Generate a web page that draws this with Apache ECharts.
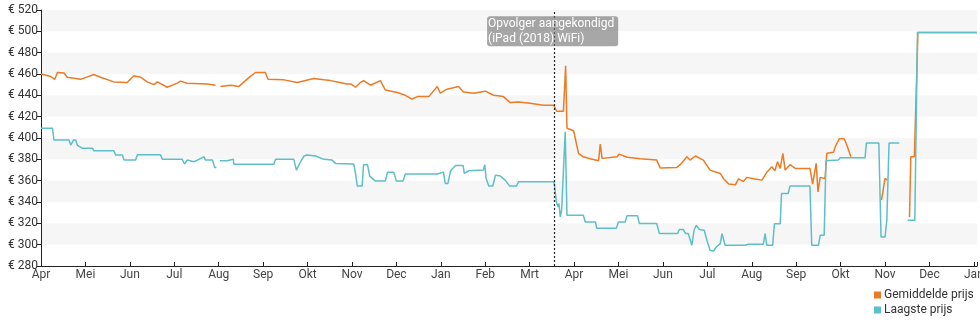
<!DOCTYPE html>
<html>
<head>
<meta charset="utf-8">
<script src="https://cdn.jsdelivr.net/npm/echarts@6/dist/echarts.min.js"></script>
<style>
html,body{margin:0;padding:0;background:#fff;}
#chart{width:980px;height:325px;}
</style>
</head>
<body>
<div id="chart"></div>
<script>
// Month tick labels (equal spacing, one per month)
const monthLabels = ['Apr','Mei','Jun','Jul','Aug','Sep','Okt','Nov','Dec','Jan','Feb','Mrt','Apr','Mei','Jun','Jul','Aug','Sep','Okt','Nov','Dec','Jan'];

// Gemiddelde prijs: [month position, price]
const avgPrice = [
[0.00,460],[0.22,457.6],[0.31,455],[0.37,461.4],[0.52,461],[0.59,457],[0.89,455],[1.19,459.5],[1.34,457],
[1.64,452.6],[1.94,452],[2.09,458.3],[2.24,457],[2.39,452.6],[2.54,450],[2.62,452.6],[2.84,447.6],[3.07,451.4],
[3.14,453.3],[3.29,451.4],[3.74,450.7],[3.93,449.5],[3.96,null],[4.04,448.2],[4.27,449.5],[4.45,448.2],[4.57,452.6],
[4.72,458],[4.83,461.4],[5.05,461.4],[5.11,455],[5.47,454.5],[5.77,452],[6.14,455.7],[6.37,454.5],[6.52,453.8],
[6.67,452.6],[6.89,450.7],[6.97,450.7],[7.08,447.6],[7.19,452],[7.26,453.8],[7.42,449.5],[7.64,453.8],[7.75,445],
[8.02,442.6],[8.20,440],[8.35,436.4],[8.47,438.8],[8.73,438.8],[8.92,448.2],[8.99,442],[9.14,445.8],[9.40,448.2],
[9.51,443.2],[9.74,442],[10.00,443.9],[10.19,440.1],[10.41,438.8],[10.56,433.2],[10.75,433.8],[11.01,432.6],
[11.31,430.7],[11.54,430.7],[11.61,425.1],[11.76,425.1],[11.81,467.7],[11.84,409.1],[11.99,406.8],[12.10,385.6],
[12.21,382.4],[12.36,380.5],[12.55,378.7],[12.59,394.3],[12.63,380.9],[12.97,382.4],[13.01,384.9],[13.20,381.9],
[13.49,380.5],[13.86,379.3],[13.94,371.8],[14.31,372.4],[14.39,375],[14.54,382.4],[14.61,379.3],[14.73,383.1],
[14.91,379.3],[15.06,369.9],[15.29,366.8],[15.36,362.1],[15.48,356.8],[15.63,356.1],[15.70,361.7],[15.81,359.3],
[15.89,363.1],[16.04,361.7],[16.23,360.5],[16.34,368],[16.45,373],[16.52,369.3],[16.58,377.7],[16.64,371.5],
[16.70,385.6],[16.75,369.9],[16.86,375],[16.98,371.5],[17.31,371.5],[17.37,356.8],[17.45,376.2],[17.49,349.5],
[17.54,363.1],[17.65,362.1],[17.69,385.6],[17.84,386.6],[17.88,391.8],[17.97,399.3],[18.08,399.3],[18.14,393.4],
[18.17,393.4],[18.23,382.4],[18.40,null],[18.92,341.7],[19.00,362.1],[19.05,360.5],[19.30,null],
[19.55,326],[19.58,382.4],[19.66,382.4],[19.74,499],[21.07,499]
];

// Laagste prijs: [month position, price]
const lowPrice = [
[0.00,409.1],[0.26,409.1],[0.29,398.1],[0.63,398.1],[0.67,393.4],[0.73,398.1],[0.78,398.1],[0.82,393.1],[0.93,390.3],
[1.16,390.3],[1.19,388.1],[1.64,388.1],[1.68,384],[1.83,384],[1.87,379.3],[2.13,379.3],[2.17,384.3],[2.69,384.3],
[2.73,380],[3.18,380],[3.23,375.6],[3.29,379.3],[3.44,377.7],[3.52,379.3],[3.67,382.4],[3.70,379.3],[3.86,379.3],
[3.91,372.4],[3.95,372.4],[3.97,null],[4.03,378.7],[4.19,378.7],[4.23,380],[4.33,380],[4.34,375.3],[5.24,375.3],
[5.28,380],[5.69,380],[5.75,369.9],[5.84,377.7],[5.92,383.1],[5.99,384],[6.18,383.1],[6.37,380],[6.55,379.3],
[6.63,376.2],[7.04,375.6],[7.08,366.8],[7.12,354.9],[7.23,354.9],[7.26,374.9],[7.35,374.9],[7.40,364.3],
[7.53,359.6],[7.75,359.6],[7.80,368],[7.94,368],[8.00,359.6],[8.15,359.6],[8.20,366.2],[8.92,366.2],[8.95,368],
[9.06,368],[9.10,357.4],[9.16,357.4],[9.22,369.3],[9.33,374.3],[9.50,374.3],[9.53,366.8],[9.63,369.3],
[9.96,369.9],[9.99,374.9],[10.02,362.1],[10.08,354.9],[10.17,354.9],[10.23,365.2],[10.34,364.3],[10.45,360.5],
[10.55,354.9],[10.70,354.9],[10.75,358.9],[11.55,358.9],[11.60,340.1],[11.64,335.4],[11.66,338.6],[11.69,326],
[11.72,332.3],[11.76,332.3],[11.80,405.9],[11.84,327.6],[12.21,327.6],[12.25,321.3],[12.48,321.3],[12.51,315.4],
[12.95,315.4],[13.00,321.3],[13.15,321.3],[13.19,327],[13.43,327],[13.47,319.8],[13.86,319.8],[13.92,310.4],
[14.33,310.4],[14.37,314.2],[14.46,314.2],[14.51,310.4],[14.57,310.4],[14.65,299.4],[14.70,313.5],[14.75,318.2],
[14.82,314.2],[14.93,313.5],[14.99,304.1],[15.06,294.7],[15.14,294.1],[15.20,297.8],[15.29,301],[15.33,310.4],
[15.40,299.4],[15.85,299.4],[15.92,300.4],[16.26,300.4],[16.30,310.4],[16.34,299.4],[16.47,299.4],[16.51,319.5],
[16.64,319.5],[16.67,348],[16.82,348],[16.86,354.9],[17.31,354.9],[17.35,299.4],[17.50,299.4],[17.54,308.8],
[17.63,308.8],[17.67,378.7],[17.95,379.3],[17.99,381.4],[18.55,381.4],[18.58,395.3],[18.86,395.3],[18.91,307.2],
[19.00,307.2],[19.04,322.9],[19.09,395.3],[19.32,395.3],[19.40,null],[19.51,322.9],[19.67,322.9],[19.73,499],[21.07,499]
];

// Annotation
const eventPos = 11.55;
const eventLabel = 'Opvolger aangekondigd\n(iPad (2018) WiFi)';
const eventLabelPrice = 500;

const yMin = 280, yMax = 520, yStep = 20;
const xMax = 21.07;

const chart = echarts.init(document.getElementById('chart'), null, {renderer: 'canvas'});
const fontFamily = 'Roboto, "Noto Sans", sans-serif';
chart.setOption({
  animation: false,
  textStyle: {fontFamily: fontFamily},
  grid: {left: 41, right: 3, top: 10, bottom: 59, containLabel: false, outerBoundsMode: 'none'},
  legend: {
    orient: 'vertical', left: 874, top: 289, itemGap: 3, padding: 0,
    itemWidth: 7, itemHeight: 7, icon: 'rect',
    textStyle: {fontSize: 12, color: '#333', fontFamily: fontFamily, padding: [0,0,0,-2]},
    data: ['Gemiddelde prijs', 'Laagste prijs']
  },
  xAxis: {
    type: 'value', min: 0, max: xMax, interval: 1,
    axisLine: {show: true, lineStyle: {color: '#222', width: 1}},
    axisTick: {show: true, inside: true, length: 4, lineStyle: {color: '#222'}},
    axisLabel: {
      margin: 3, fontSize: 12, color: '#444', fontFamily: fontFamily,
      hideOverlap: false,
      formatter: function (v) { return Math.abs(v - Math.round(v)) < 1e-6 ? (monthLabels[Math.round(v)] || '') : ''; }
    },
    splitLine: {show: false}
  },
  yAxis: {
    type: 'value', min: yMin, max: yMax, interval: yStep,
    axisLine: {show: true, lineStyle: {color: '#222', width: 1}},
    axisTick: {show: true, length: 4, lineStyle: {color: '#222'}},
    axisLabel: {margin: 3, fontSize: 12, color: '#333', fontFamily: fontFamily,
      formatter: function (v) { return '€ ' + v; }},
    splitLine: {show: false},
    splitArea: {show: true, areaStyle: {color: ['#ffffff', '#f6f6f6']}}
  },
  series: [
    {
      name: 'Gemiddelde prijs', type: 'line', data: avgPrice,
      showSymbol: false, symbol: 'none', connectNulls: false,
      itemStyle: {color: '#ec7b25'},
      lineStyle: {color: '#ec7b25', width: 1.5},
      markLine: {
        silent: true, symbol: ['none', 'none'],
        label: {show: false},
        lineStyle: {color: '#222', type: [2, 2], width: 1.2},
        data: [{xAxis: eventPos}]
      },
      markPoint: {
        silent: true,
        data: [{
          coord: [eventPos, eventLabelPrice], symbol: 'rect', symbolSize: 0,
          label: {
            show: true, position: 'inside', formatter: eventLabel,
            color: '#fff', fontSize: 12, lineHeight: 15, align: 'left',
            offset: [-67, 0],
            fontFamily: fontFamily,
            backgroundColor: 'rgba(120,120,120,0.65)', borderRadius: 3,
            padding: [0, 4, 0, 1]
          }
        }]
      }
    },
    {
      name: 'Laagste prijs', type: 'line', data: lowPrice,
      showSymbol: false, symbol: 'none', connectNulls: false,
      itemStyle: {color: '#5dbfc7'},
      lineStyle: {color: '#5dbfc7', width: 1.5}
    }
  ]
});
</script>
</body>
</html>
